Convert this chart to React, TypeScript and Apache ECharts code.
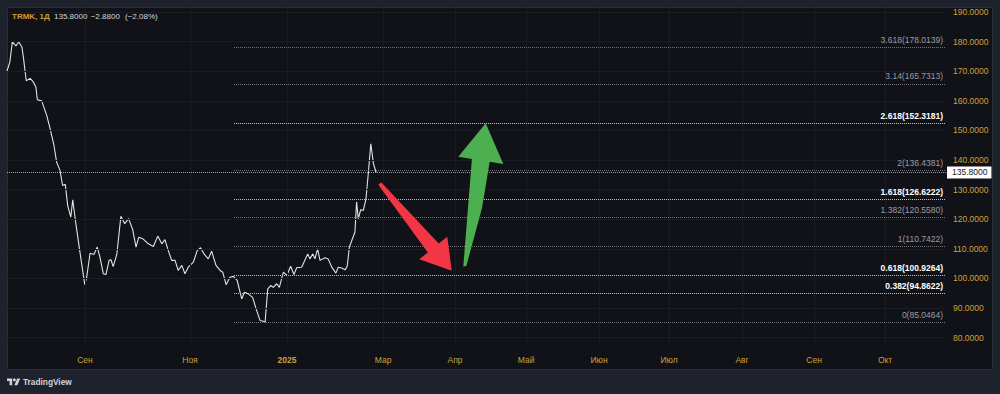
import React, { useEffect, useRef } from "react";
import * as echarts from "echarts";

// ---- Data ----
const priceBars = [
  0, 1.2, 2.2, 3.7, 4.9, 6.2, 6.8, 8.0, 9.6, 10.9, 12.0, 12.6, 14.4, 16.5, 17.9, 19.5, 20.6, 22.0,
  23.1, 24.2, 25.2, 26.5, 27.3, 28.7, 30.3, 32.3, 33.1, 34.5, 36.1, 37.5, 38.6, 40.0, 41.1, 42.4,
  43.2, 44.1, 45.6, 47.3, 48.9, 50.5, 52.2, 53.6, 54.7, 56.6, 58.7, 60.8, 62.6, 64.3, 65.6, 67.0,
  68.4, 69.8, 71.1, 72.6, 73.9, 75.3, 77.4, 79.0, 80.4, 81.8, 83.6, 85.0, 86.8, 88.5, 89.6, 91.0,
  92.6, 94.0, 95.6, 97.5, 98.6, 100.2, 102.0, 103.7, 105.1, 106.5, 107.2, 108.3, 109.5, 110.6,
  112.0, 113.1, 114.8, 116.2, 117.8, 119.2, 120.3, 122.4, 124.9, 125.8, 127.0, 127.9, 129.0, 130.0,
  132.1, 133.4, 134.9, 136.6, 137.6, 139.0, 140.4, 141.3, 142.2, 143.2, 144.5, 145.2, 145.9, 146.9,
  148.0, 149.1, 150.1, 151.1, 152.2, 153.3,
];
const priceValues = [
  170.1, 173.2, 179.9, 178.6, 179.9, 178.2, 174.8, 166.8, 167.6, 166.4, 164.7, 160.4, 160.0, 155.1,
  150.6, 145.0, 139.3, 136.5, 131.4, 131.8, 124.7, 120.7, 126.6, 117.9, 108.9, 97.9, 100.4, 108.5,
  108.1, 110.6, 107.2, 101.6, 101.3, 106.1, 106.3, 104.0, 108.1, 121.0, 118.5, 120.2, 116.5, 110.6,
  113.9, 113.3, 111.7, 110.8, 114.3, 111.7, 113.1, 109.4, 106.1, 106.1, 102.7, 104.4, 101.6, 103.8,
  105.5, 109.4, 110.4, 108.3, 106.6, 109.2, 104.4, 102.7, 102.1, 97.9, 100.4, 100.7, 99.3, 93.1,
  95.3, 94.8, 93.6, 89.1, 85.8, 85.5, 85.2, 96.5, 97.6, 97.0, 98.2, 97.0, 102.1, 101.0, 104.1, 101.3,
  103.6, 103.8, 108.3, 106.6, 108.3, 106.6, 110.0, 106.1, 107.0, 106.6, 103.8, 101.8, 103.8, 103.5,
  102.9, 104.1, 110.6, 112.8, 115.6, 125.8, 120.2, 123.2, 123.0, 126.9, 135.9, 145.5, 138.8, 135.8,
];

const fibRatios = ["3.618", "3.14", "2.618", "2", "1.618", "1.382", "1", "0.618", "0.382", "0"];
const fibValues = [178.0139, 165.7313, 152.3181, 136.4381, 126.6222, 120.558, 110.7422, 100.9264, 94.8622, 85.0464];
const fibHighlighted = [false, false, true, false, true, false, false, true, true, false];
const fibStartBar = 94.3;

const monthLabels = ["Сен", "Ноя", "2025", "Мар", "Апр", "Май", "Июн", "Июл", "Авг", "Сен", "Окт"];
const monthBars = [32.4, 76.0, 116.3, 156.2, 186.1, 215.6, 245.9, 275.0, 305.3, 335.2, 364.7];
const yearLabels = ["2025"];

const priceTicks = [80, 90, 100, 110, 120, 130, 140, 150, 160, 170, 180, 190];

const ticker = "TRMK, 1Д";
const headerClose = "135.8000";
const headerChange = "−2.8800";
const headerChangePct = "(−2.08%)";

// ---- Styles ----
const FONT = "Liberation Sans";
const GOLD = "#cca03c";
const FRAME = "#1e222d";
const PANEL = "#111217";
const GRID = "#1a1c23";

const TV_LOGO =
  "M14 22H7V11H0V4h14v18zM28 22h-8l7.5-18h8L28 22zM24 8a4 4 0 1 1-8 0a4 4 0 1 1 8 0z";
let logoRegistered = false;

export default function App() {
  const ref = useRef<HTMLDivElement>(null);

  useEffect(() => {
    if (!ref.current) return;
    if (!logoRegistered) {
      echarts.graphic.registerShape("tvlogo", echarts.graphic.extendPath(TV_LOGO, {}) as any);
      logoRegistered = true;
    }
    const chart = echarts.init(ref.current, undefined, { renderer: "svg" });
    const lastClose = priceValues[priceValues.length - 1];

    const headerText = (text: string, x: number, fill: string, bold = false) => ({
      type: "text",
      z: 60,
      x,
      y: 16.5,
      style: {
        text,
        fill,
        fontSize: 8,
        fontWeight: bold ? "bold" : "normal",
        fontFamily: FONT,
        verticalAlign: "middle",
      },
    });

    const option: any = {
      animation: false,
      backgroundColor: FRAME,
      textStyle: { fontFamily: FONT },
      grid: { left: 7, right: 54, top: 7, bottom: 50, containLabel: false },
      xAxis: {
        type: "value",
        min: 0,
        max: 390,
        axisLine: { show: false },
        axisTick: { show: false },
        splitLine: { show: false },
        axisLabel: {
          customValues: monthBars,
          color: GOLD,
          fontSize: 8.5,
          fontFamily: FONT,
          margin: 11,
          formatter: (v: number) => {
            const i = monthBars.findIndex((b) => Math.abs(b - v) < 0.01);
            const t = i >= 0 ? monthLabels[i] : "";
            return yearLabels.includes(t) ? `{y|${t}}` : t;
          },
          rich: { y: { color: GOLD, fontSize: 8.5, fontWeight: "bold", fontFamily: FONT } },
        },
      },
      yAxis: {
        type: "value",
        position: "right",
        min: 77.84,
        max: 191.72,
        axisLine: { show: false },
        axisTick: { show: false },
        splitLine: { show: false },
        axisLabel: {
          customValues: priceTicks,
          color: GOLD,
          fontSize: 8.5,
          fontFamily: FONT,
          margin: 7,
          formatter: (v: number) => v.toFixed(4),
        },
      },
      series: [
        {
          type: "line",
          name: "grid",
          data: [],
          silent: true,
          z: 1,
          markLine: {
            silent: true,
            symbol: ["none", "none"],
            label: { show: false },
            lineStyle: { color: GRID, width: 1, type: "solid" },
            data: [
              ...priceTicks.map((v) => ({ yAxis: v })),
              ...monthBars.map((b) => ({ xAxis: b })),
            ],
          },
        },
        {
          type: "line",
          name: "fib",
          data: [],
          silent: true,
          z: 2,
          markLine: {
            silent: true,
            symbol: ["none", "none"],
            data: fibValues.map((v, i) => [
              {
                coord: [fibStartBar, v],
                lineStyle: {
                  color: fibHighlighted[i] ? "#c4c6cb" : "#72757c",
                  width: 1,
                  type: [1, 1],
                },
                label: {
                  show: true,
                  position: "insideEndTop",
                  distance: 3,
                  formatter: `${fibRatios[i]}(${v.toFixed(4)})`,
                  color: fibHighlighted[i] ? "#ffffff" : "#9a9da5",
                  fontWeight: fibHighlighted[i] ? "bold" : "normal",
                  fontSize: 8.5,
                  fontFamily: FONT,
                },
              },
              { coord: [390, v] },
            ]),
          },
        },
        {
          type: "line",
          name: "TRMK",
          data: priceBars.map((b, i) => [b, priceValues[i]]),
          showSymbol: false,
          symbol: "none",
          silent: true,
          z: 3,
          lineStyle: { color: "#e2e3e6", width: 1.1 },
        },
        {
          type: "line",
          name: "last",
          data: [],
          silent: true,
          clip: false,
          z: 100,
          markLine: {
            silent: true,
            symbol: ["none", "none"],
            lineStyle: { color: "#a4a6ab", width: 1, type: [1, 1] },
            label: {
              show: true,
              position: "end",
              distance: 1,
              formatter: lastClose.toFixed(4),
              backgroundColor: "#ffffff",
              color: "#131722",
              fontSize: 8.5,
              fontFamily: FONT,
              padding: [2, 4, 1, 5],
            },
            data: [{ yAxis: lastClose }],
          },
        },
      ],
      graphic: [
        {
          type: "rect",
          z: -100,
          silent: true,
          shape: { x: 7.5, y: 7.5, width: 985, height: 362 },
          style: { fill: PANEL, stroke: "#2a2e39", lineWidth: 1 },
        },
        headerText(ticker, 12, GOLD, true),
        headerText(headerClose, 54, "#d1d4dc"),
        headerText(headerChange, 90.7, "#d1d4dc"),
        headerText(headerChangePct, 125, "#d1d4dc"),
        {
          type: "polygon",
          z: 50,
          shape: {
            points: [
              [381.2, 182.3],
              [438.7, 243.6],
              [447.3, 236.7],
              [451.7, 270.7],
              [419.3, 259.3],
              [427.9, 252.4],
              [378.3, 184.8],
            ],
          },
          style: { fill: "#f23645" },
        },
        {
          type: "polygon",
          z: 50,
          shape: {
            points: [
              [463.3, 266.5],
              [471.9, 158.9],
              [458.3, 156.7],
              [485.7, 123.3],
              [503.3, 164.0],
              [489.7, 161.7],
              [482.0, 208.0],
              [466.3, 266.0],
            ],
          },
          style: { fill: "#4caf50" },
        },
        {
          type: "tvlogo",
          x: 7,
          y: 377,
          scaleX: 0.37,
          scaleY: 0.37,
          style: { fill: "#d1d4dc" },
        },
        {
          type: "text",
          x: 23,
          y: 381.5,
          style: {
            text: "TradingView",
            fill: "#d1d4dc",
            fontSize: 8.3,
            fontWeight: "bold",
            fontFamily: FONT,
            verticalAlign: "middle",
          },
        },
      ],
    };

    chart.setOption(option);
    return () => chart.dispose();
  }, []);

  return (
    <div
      ref={ref}
      style={{ position: "absolute", left: 0, top: 0, width: 1000, height: 394 }}
    />
  );
}
